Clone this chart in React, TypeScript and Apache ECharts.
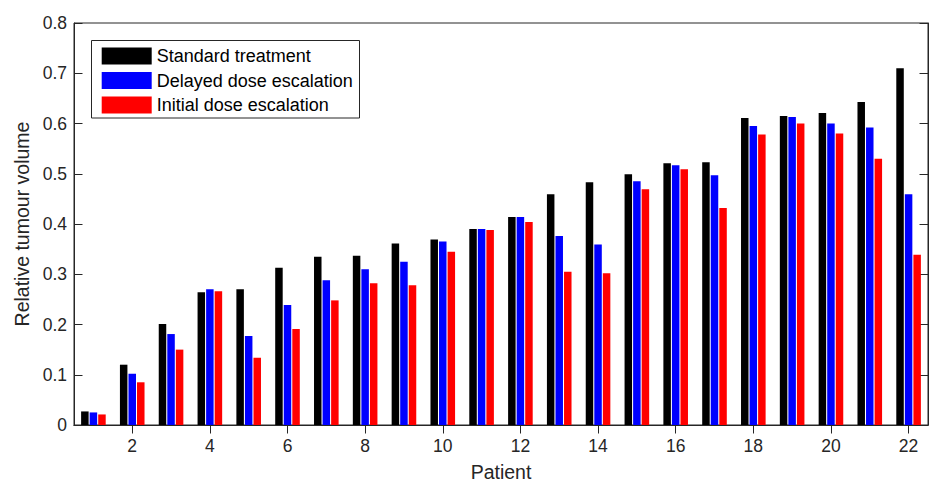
import React, { useEffect, useRef } from "react";
import * as echarts from "echarts";

const patients = Array.from({ length: 22 }, (_, i) => String(i + 1));
const standardTreatment = [0.027, 0.120, 0.201, 0.264, 0.270, 0.313, 0.335, 0.337, 0.361, 0.369, 0.390, 0.414, 0.459, 0.483, 0.499, 0.521, 0.523, 0.611, 0.615, 0.621, 0.643, 0.710];
const delayedEscalation = [0.025, 0.102, 0.181, 0.270, 0.177, 0.239, 0.288, 0.310, 0.325, 0.365, 0.390, 0.414, 0.376, 0.359, 0.485, 0.517, 0.497, 0.595, 0.613, 0.600, 0.592, 0.459];
const initialEscalation = [0.021, 0.085, 0.150, 0.266, 0.134, 0.191, 0.248, 0.282, 0.278, 0.345, 0.388, 0.404, 0.305, 0.302, 0.469, 0.509, 0.432, 0.578, 0.600, 0.580, 0.530, 0.339];
const seriesNames = ["Standard treatment", "Delayed dose escalation", "Initial dose escalation"];

const FONT = "'Liberation Sans', Arial, Helvetica, sans-serif";
const INK = "#262626";

export default function App() {
  const ref = useRef<HTMLDivElement>(null);
  useEffect(() => {
    if (!ref.current) return;
    const chart = echarts.init(ref.current, undefined, { renderer: "svg" });
    const evenOnly = (i: number) => i % 2 === 1;
    const barCommon = { type: "bar" as const, barWidth: 7.5, barGap: "14%", xAxisIndex: 0, yAxisIndex: 0 };
    chart.setOption({
      animation: false,
      textStyle: { fontFamily: FONT },
      grid: { left: 74, right: 17, top: 23, bottom: 58, show: true, borderColor: INK, borderWidth: 1, containLabel: false },
      xAxis: [
        {
          type: "category",
          data: patients,
          position: "bottom",
          name: "Patient",
          nameLocation: "middle",
          nameGap: 37,
          nameTextStyle: { color: INK, fontSize: 19.5, fontFamily: FONT },
          axisLine: { show: true, lineStyle: { color: INK, width: 1 } },
          axisTick: { show: true, inside: true, length: 8.5, alignWithLabel: true, interval: evenOnly, lineStyle: { color: INK } },
          axisLabel: { interval: evenOnly, color: INK, fontSize: 17.5, fontFamily: FONT, margin: 12 },
          splitLine: { show: false },
        },
        {
          type: "category",
          data: patients,
          position: "top",
          axisLine: { show: true, lineStyle: { color: INK, width: 1 } },
          axisTick: { show: true, inside: true, length: 8.5, alignWithLabel: true, interval: evenOnly, lineStyle: { color: INK } },
          axisLabel: { show: false },
          splitLine: { show: false },
        },
      ],
      yAxis: [
        {
          type: "value",
          min: 0,
          max: 0.8,
          interval: 0.1,
          position: "left",
          name: "Relative tumour volume",
          nameLocation: "middle",
          nameGap: 39,
          nameTextStyle: { color: INK, fontSize: 19.5, fontFamily: FONT },
          axisLine: { show: true, lineStyle: { color: INK, width: 1 } },
          axisTick: { show: true, inside: true, length: 8.5, lineStyle: { color: INK } },
          axisLabel: { color: INK, fontSize: 17.5, fontFamily: FONT, margin: 7 },
          splitLine: { show: false },
        },
        {
          type: "value",
          min: 0,
          max: 0.8,
          interval: 0.1,
          position: "right",
          axisLine: { show: true, lineStyle: { color: INK, width: 1 } },
          axisTick: { show: true, inside: true, length: 8.5, lineStyle: { color: INK } },
          axisLabel: { show: false },
          splitLine: { show: false },
        },
      ],
      legend: {
        orient: "vertical",
        left: 101.7,
        top: 47,
        padding: 0,
        itemWidth: 50,
        itemHeight: 17,
        itemGap: 6.5,
        icon: "rect",
        textStyle: { color: "#000", fontSize: 18, fontFamily: FONT },
        data: seriesNames,
      },
      graphic: [
        {
          type: "rect",
          shape: { x: 91.5, y: 40.5, width: 268, height: 77.5 },
          style: { fill: "#fff", stroke: INK, lineWidth: 1 },
          z: 0,
          zlevel: 0,
        },
      ],
      series: [
        { ...barCommon, name: seriesNames[0], data: standardTreatment, itemStyle: { color: "#000000" } },
        { ...barCommon, name: seriesNames[1], data: delayedEscalation, itemStyle: { color: "#0000ff" } },
        { ...barCommon, name: seriesNames[2], data: initialEscalation, itemStyle: { color: "#ff0000" } },
      ],
    });
    return () => chart.dispose();
  }, []);
  return <div ref={ref} style={{ width: 945, height: 487, position: "absolute", left: 0, top: 0, background: "#fff" }} />;
}
